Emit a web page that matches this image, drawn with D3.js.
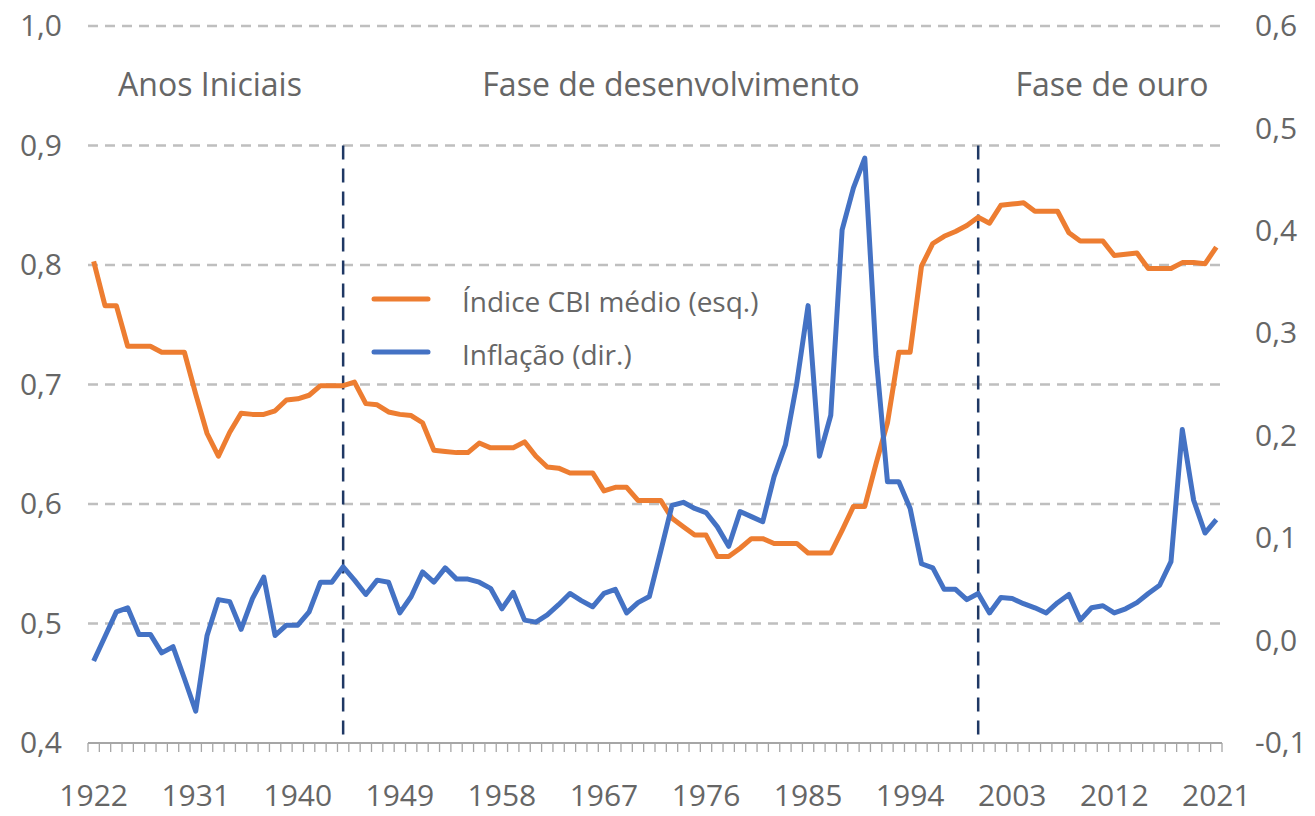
<!DOCTYPE html>
<html>
<head>
<meta charset="utf-8">
<script src="https://cdn.jsdelivr.net/npm/d3@7"></script>
<style>
  body { margin: 0; background: #fff; }
  text { font-family: "Open Sans", "Noto Sans", sans-serif; fill: #666; }
</style>
</head>
<body>
<script>
// Data: years 1922-2021
const years = d3.range(1922, 2022);
const labelYears = [1922, 1931, 1940, 1949, 1958, 1967, 1976, 1985, 1994, 2003, 2012, 2021];
const phaseYears = [1944, 2000];
const leftTicks = [0.4, 0.5, 0.6, 0.7, 0.8, 0.9, 1.0];
const rightTicks = [-0.1, 0.0, 0.1, 0.2, 0.3, 0.4, 0.5, 0.6];

// Índice CBI médio (esq.)
const cbi = [
  0.803, 0.766, 0.766, 0.732, 0.732, 0.732, 0.727, 0.727, 0.727, 0.692,
  0.659, 0.640, 0.660, 0.676, 0.675, 0.675, 0.678, 0.687, 0.688, 0.691,
  0.699, 0.699, 0.699, 0.702, 0.684, 0.683, 0.677, 0.675, 0.674, 0.668,
  0.645, 0.644, 0.643, 0.643, 0.651, 0.647, 0.647, 0.647, 0.652, 0.640,
  0.631, 0.630, 0.626, 0.626, 0.626, 0.611, 0.614, 0.614, 0.603, 0.603,
  0.603, 0.588, 0.581, 0.574, 0.574, 0.556, 0.556, 0.563, 0.571, 0.571,
  0.567, 0.567, 0.567, 0.559, 0.559, 0.559, 0.578, 0.598, 0.598, 0.634,
  0.668, 0.727, 0.727, 0.799, 0.818, 0.824, 0.828, 0.833, 0.840, 0.835,
  0.850, 0.851, 0.852, 0.845, 0.845, 0.845, 0.827, 0.820, 0.820, 0.820,
  0.808, 0.809, 0.810, 0.797, 0.797, 0.797, 0.802, 0.802, 0.801, 0.815
];

// Inflação (dir.)
const inflation = [
  -0.020, 0.004, 0.028, 0.032, 0.006, 0.006, -0.012, -0.006, -0.037, -0.069,
  0.005, 0.040, 0.038, 0.011, 0.041, 0.062, 0.005, 0.015, 0.015, 0.028,
  0.057, 0.057, 0.072, 0.059, 0.045, 0.059, 0.057, 0.027, 0.043, 0.067,
  0.057, 0.071, 0.060, 0.060, 0.057, 0.051, 0.031, 0.047, 0.020, 0.018,
  0.025, 0.035, 0.046, 0.039, 0.033, 0.046, 0.050, 0.027, 0.037, 0.043,
  0.087, 0.132, 0.135, 0.129, 0.125, 0.111, 0.092, 0.126, 0.121, 0.116,
  0.160, 0.191, 0.251, 0.327, 0.180, 0.220, 0.401, 0.442, 0.471, 0.277,
  0.155, 0.155, 0.129, 0.075, 0.071, 0.050, 0.050, 0.040, 0.046, 0.027,
  0.042, 0.041, 0.036, 0.032, 0.027, 0.037, 0.045, 0.020, 0.032, 0.034,
  0.027, 0.031, 0.037, 0.046, 0.054, 0.077, 0.206, 0.137, 0.105, 0.118
];

const phases = [
  { label: 'Anos Iniciais', x: 210 },
  { label: 'Fase de desenvolvimento', x: 671 },
  { label: 'Fase de ouro', x: 1112 }
];

const series = [
  { label: 'Índice CBI médio (esq.)', color: '#ED7D31' },
  { label: 'Inflação (dir.)', color: '#4472C4' }
];

const svgWidth = 1315;
const svgHeight = 816;
const plot = { left: 88, right: 1222, top: 26, bottom: 743 };

const svg = d3.select('body').append('svg')
  .attr('width', svgWidth)
  .attr('height', svgHeight);

// Scales
const x = d3.scaleBand().domain(years).range([plot.left, plot.right]).padding(0);
const yL = d3.scaleLinear().domain([0.4, 1.0]).range([plot.bottom, plot.top]);
const yR = d3.scaleLinear().domain([-0.1, 0.6]).range([plot.bottom, plot.top]);
const cx = d => x(d) + x.bandwidth() / 2;
const fmt = d => d.toFixed(1).replace('.', ',');

// Gridlines
svg.append('g').selectAll('line')
  .data(leftTicks.slice(1))
  .enter().append('line')
  .attr('x1', plot.left).attr('x2', plot.right)
  .attr('y1', d => yL(d)).attr('y2', d => yL(d))
  .attr('stroke', '#BFBFBF')
  .attr('stroke-width', 2.5)
  .attr('stroke-dasharray', '10,7');

// Left axis
const leftAxis = svg.append('g')
  .attr('transform', `translate(${plot.left},0)`)
  .call(d3.axisLeft(yL).tickValues(leftTicks).tickSize(0).tickPadding(26).tickFormat(fmt));
leftAxis.select('.domain').remove();

// Right axis
const rightAxis = svg.append('g')
  .attr('transform', `translate(${plot.right},0)`)
  .call(d3.axisRight(yR).tickValues(rightTicks).tickSize(0).tickPadding(33).tickFormat(fmt));
rightAxis.select('.domain').remove();

// Bottom axis labels
const bottomAxis = svg.append('g')
  .attr('transform', `translate(0,${plot.bottom})`)
  .call(d3.axisBottom(x).tickValues(labelYears).tickSize(0).tickPadding(42));
bottomAxis.select('.domain').remove();

svg.selectAll('.tick text')
  .attr('fill', '#666')
  .style('font-size', '30px')
  .style('font-family', '"Open Sans", "Noto Sans", sans-serif');

// Category tick marks (between years)
const tickPos = years.map(d => x(d)).concat([x(years[years.length - 1]) + x.bandwidth()]);
svg.append('g').selectAll('line')
  .data(tickPos)
  .enter().append('line')
  .attr('x1', d => d).attr('x2', d => d)
  .attr('y1', plot.bottom).attr('y2', plot.bottom + 9)
  .attr('stroke', '#A6A6A6')
  .attr('stroke-width', 1.3);

svg.append('line')
  .attr('x1', plot.left).attr('x2', plot.right)
  .attr('y1', plot.bottom).attr('y2', plot.bottom)
  .attr('stroke', '#A6A6A6')
  .attr('stroke-width', 2);

// Phase separators
svg.append('g').selectAll('line')
  .data(phaseYears)
  .enter().append('line')
  .attr('x1', d => cx(d)).attr('x2', d => cx(d))
  .attr('y1', yL(0.9)).attr('y2', yL(0.4))
  .attr('stroke', '#1F3864')
  .attr('stroke-width', 2.5)
  .attr('stroke-dasharray', '14,9');

// Phase labels
svg.append('g').selectAll('text')
  .data(phases)
  .enter().append('text')
  .attr('x', d => d.x)
  .attr('y', 96)
  .attr('text-anchor', 'middle')
  .style('font-size', '32px')
  .text(d => d.label);

// Lines
const cbiLine = d3.line()
  .x((d, i) => cx(years[i]))
  .y(d => yL(d));

const inflLine = d3.line()
  .x((d, i) => cx(years[i]))
  .y(d => yR(d));

svg.append('path')
  .datum(cbi)
  .attr('d', cbiLine)
  .attr('fill', 'none')
  .attr('stroke', series[0].color)
  .attr('stroke-width', 5)
  .attr('stroke-linejoin', 'round');

svg.append('path')
  .datum(inflation)
  .attr('d', inflLine)
  .attr('fill', 'none')
  .attr('stroke', series[1].color)
  .attr('stroke-width', 5)
  .attr('stroke-linejoin', 'round');

// Legend
const legend = svg.append('g');
const legendY = [299, 352];
series.forEach((s, i) => {
  legend.append('line')
    .attr('x1', 374).attr('x2', 428)
    .attr('y1', legendY[i]).attr('y2', legendY[i])
    .attr('stroke', s.color)
    .attr('stroke-width', 5)
    .attr('stroke-linecap', 'round');
  legend.append('text')
    .attr('x', 462)
    .attr('y', legendY[i] + 13)
    .style('font-size', '28px')
    .text(s.label);
});
</script>
</body>
</html>
